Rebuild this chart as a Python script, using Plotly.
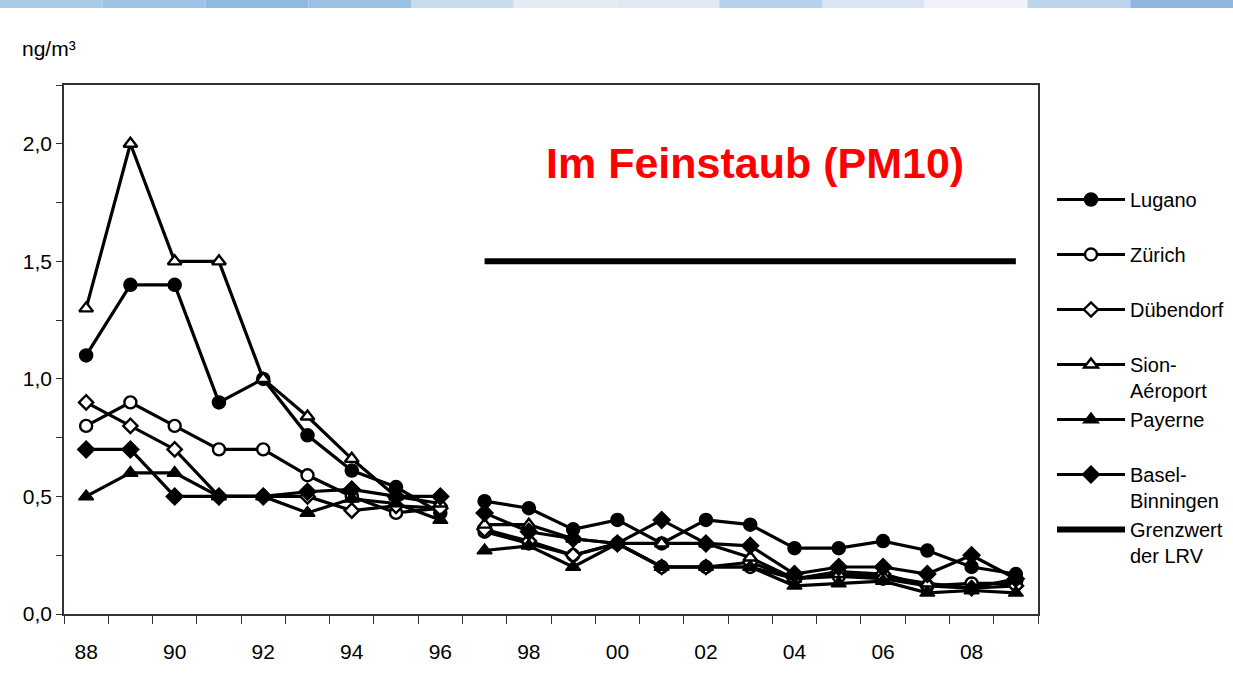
import plotly.graph_objects as go

# ---------------- data ----------------
years_a = [1988, 1989, 1990, 1991, 1992, 1993, 1994, 1995, 1996]
years_b = [1997, 1998, 1999, 2000, 2001, 2002, 2003, 2004, 2005, 2006, 2007, 2008, 2009]

lugano_a = [1.10, 1.40, 1.40, 0.90, 1.00, 0.76, 0.61, 0.54, 0.43]
lugano_b = [0.48, 0.45, 0.36, 0.40, 0.30, 0.40, 0.38, 0.28, 0.28, 0.31, 0.27, 0.20, 0.17]

zuerich_a = [0.80, 0.90, 0.80, 0.70, 0.70, 0.59, 0.50, 0.43, 0.45]
zuerich_b = [0.35, 0.30, 0.25, 0.30, 0.20, 0.20, 0.20, 0.15, 0.16, 0.15, 0.12, 0.13, 0.13]

duebendorf_a = [0.90, 0.80, 0.70, 0.50, 0.50, 0.50, 0.44, 0.46, 0.45]
duebendorf_b = [0.36, 0.31, 0.25, 0.30, 0.20, 0.20, 0.22, 0.15, 0.18, 0.17, 0.12, 0.11, 0.12]

sion_a = [1.30, 2.00, 1.50, 1.50, 1.00, 0.84, 0.66, 0.50, 0.47]
sion_b = [0.38, 0.38, 0.32, 0.30, 0.30, 0.30, 0.24, 0.15, 0.17, 0.16, 0.13, 0.11, 0.15]

payerne_a = [0.50, 0.60, 0.60, 0.50, 0.50, 0.43, 0.49, 0.47, 0.40]
payerne_b = [0.27, 0.29, 0.20, 0.30, 0.20, 0.20, 0.20, 0.12, 0.13, 0.14, 0.09, 0.10, 0.09]

basel_a = [0.70, 0.70, 0.50, 0.50, 0.50, 0.52, 0.53, 0.50, 0.50]
basel_b = [0.43, 0.35, 0.32, 0.30, 0.40, 0.30, 0.29, 0.17, 0.20, 0.20, 0.17, 0.25, 0.15]

limit_years = [1997, 2009]
limit_values = [1.5, 1.5]

tick_years = [1988, 1990, 1992, 1994, 1996, 1998, 2000, 2002, 2004, 2006, 2008]
tick_labels = ["88", "90", "92", "94", "96", "98", "00", "02", "04", "06", "08"]
y_ticks = [0.0, 0.5, 1.0, 1.5, 2.0]
y_labels = ["0,0", "0,5", "1,0", "1,5", "2,0"]

FONT = "Liberation Sans, Arial, sans-serif"

series = [
    ("Lugano<br> ", lugano_a, lugano_b, dict(symbol="circle", size=13, color="black", line=dict(color="black", width=1.5))),
    ("Zürich<br> ", zuerich_a, zuerich_b, dict(symbol="circle", size=12, color="white", line=dict(color="black", width=2.4))),
    ("Dübendorf<br> ", duebendorf_a, duebendorf_b, dict(symbol="diamond", size=11, color="white", line=dict(color="black", width=2.4))),
    ("Sion-<br>Aéroport", sion_a, sion_b, dict(symbol="triangle-up", size=12, color="white", line=dict(color="black", width=2.4))),
    ("Payerne<br> ", payerne_a, payerne_b, dict(symbol="triangle-up", size=13, color="black", line=dict(color="black", width=1.5))),
    ("Basel-<br>Binningen", basel_a, basel_b, dict(symbol="diamond", size=13, color="black", line=dict(color="black", width=1.5))),
]

fig = go.Figure()
for name, va, vb, mk in series:
    fig.add_trace(go.Scatter(
        x=years_a + [None] + years_b,
        y=va + [None] + vb,
        mode="lines+markers",
        name=name,
        line=dict(color="black", width=3.2),
        marker=mk,
        connectgaps=False,
        legendgroup=name,
    ))

fig.add_trace(go.Scatter(
    x=limit_years, y=limit_values, mode="lines", name="Grenzwert<br>der LRV",
    line=dict(color="black", width=6), legendgroup="lrv",
))

# decorative top strip
strip_cols = ["#a9cbe6", "#9fc3e4", "#8fb9e0", "#9cc2e3", "#c9dcee", "#e3ebf4",
              "#dfe8f3", "#b4d0ea", "#d9e5f2", "#eef2f7", "#bcd4ec", "#8fb6df"]
n = len(strip_cols)
x_left = -64 / 974
x_right = (1233 - 64) / 974
for i, c in enumerate(strip_cols):
    fig.add_shape(type="rect", xref="paper", yref="paper",
                  x0=x_left + (x_right - x_left) * i / n,
                  x1=x_left + (x_right - x_left) * (i + 1) / n,
                  y0=(614 - 8) / 529, y1=614 / 529,
                  fillcolor=c, line=dict(width=0), layer="below")

fig.add_annotation(text="Im Feinstaub (PM10)", xref="paper", yref="paper",
                   x=(755 - 64) / 974, y=(614 - 163) / 529, showarrow=False,
                   xanchor="center", yanchor="middle",
                   font=dict(family=FONT, size=43, color="#ff0000", weight="bold"))
fig.add_annotation(text="ng/m³", xref="paper", yref="paper",
                   x=(20 - 64) / 974, y=(614 - 48) / 529, xanchor="left", yanchor="middle",
                   showarrow=False,
                   font=dict(family=FONT, size=21, color="black"))

fig.update_layout(
    width=1233, height=683,
    margin=dict(l=64, r=195, t=85, b=69),
    paper_bgcolor="white", plot_bgcolor="white",
    font=dict(family=FONT, size=21, color="black"),
    showlegend=True,
    legend=dict(xref="container", yref="container",
                x=1052 / 1233, y=1 - 180 / 683, xanchor="left", yanchor="top",
                font=dict(family=FONT, size=20, color="black"),
                valign="top", tracegroupgap=0, itemwidth=68, maxheight=650,
                bgcolor="rgba(0,0,0,0)"),
    xaxis=dict(range=[1987.5, 2009.5], tickvals=tick_years, ticktext=tick_labels,
               ticks="", showgrid=False, zeroline=False,
               showline=True, linecolor="#333333", linewidth=1.5, mirror=True,
               minor=dict(tick0=1987.5, dtick=1, ticks="outside", ticklen=8,
                          tickcolor="#333333", tickwidth=1.2, showgrid=False),
               ticklabelstandoff=18,
               tickfont=dict(size=21)),
    yaxis=dict(range=[0, 2.25], tickvals=y_ticks, ticktext=y_labels,
               ticks="outside", ticklen=6, tickcolor="#333333", tickwidth=1.2,
               showgrid=False, zeroline=False,
               showline=True, linecolor="#333333", linewidth=1.5, mirror=True,
               minor=dict(dtick=0.25, tick0=0, ticks="outside", ticklen=6,
                          tickcolor="#333333", tickwidth=1.2, showgrid=False),
               tickfont=dict(size=21)),
)

fig.write_html("out.html", config={"displayModeBar": False},
               post_script="document.body.style.margin='0px';")
